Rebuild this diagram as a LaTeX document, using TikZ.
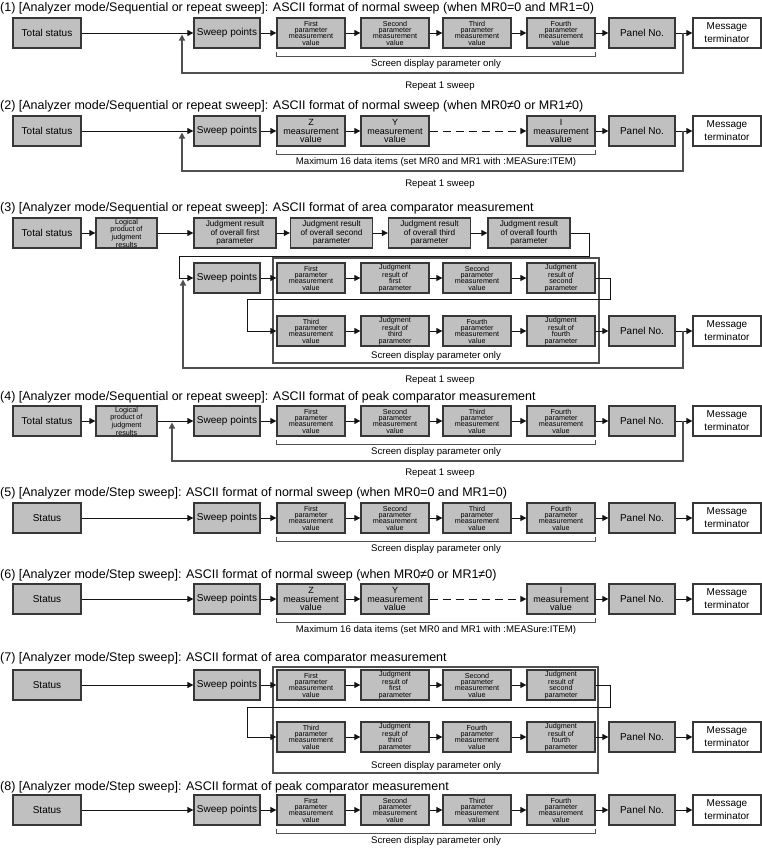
\documentclass[tikz,border=0pt]{standalone}
\usepackage{fontspec}
\setmainfont{Liberation Sans}
\usetikzlibrary{arrows.meta,calc}
\definecolor{gfill}{RGB}{192,192,192}
\definecolor{bline}{RGB}{55,55,55}
\definecolor{cline}{RGB}{20,20,20}
\definecolor{lline}{RGB}{80,80,80}
\newcommand\fTitle{\fontsize{12.5}{14}\selectfont}
\newcommand\fMid{\fontsize{10}{13}\selectfont}
\newcommand\fSm{\fontsize{7.2}{6.3}\selectfont}
\newcommand\fZ{\fontsize{9}{8.5}\selectfont}
\newcommand\fJ{\fontsize{8.2}{8.3}\selectfont}
\newcommand\fLbl{\fontsize{9.6}{11}\selectfont}
\tikzset{
  bx/.style={draw=bline, fill=gfill, line width=1.3pt, minimum height=30pt, inner sep=0pt, align=center},
  wd/.style={minimum width=68pt},
  spw/.style={minimum width=66pt},
  sm/.style={bx, wd, font=\fSm},
  md/.style={bx, font=\fMid},
  zb/.style={bx, wd, font=\fZ},
  jb/.style={bx, minimum width=82pt, font=\fJ},
  lpbox/.style={bx, minimum width=61pt, font=\fSm},
  mtbox/.style={md, wd, fill=white},
  ttl/.style={anchor=west, inner sep=0pt, font=\fTitle},
  lbl/.style={inner sep=0pt, font=\fLbl},
  ar/.style={draw=cline, line width=1pt, -{Triangle[length=6pt,width=6pt]}},
  dar/.style={ar, dash pattern=on 8pt off 5pt},
  rep/.style={draw=lline, line width=1.2pt, -{Triangle[length=6pt,width=6pt]}},
  brk/.style={draw=lline, line width=1pt},
  scr/.style={draw=lline, line width=1.3pt}
}
% standard row: four parameter boxes, panel, terminator
\newcommand\mkrow[2]{%
  \node[sm] (#1c1) at (311,#2) {First\\parameter\\measurement\\value};
  \node[sm] (#1c2) at (395,#2) {Second\\parameter\\measurement\\value};
  \node[sm] (#1c3) at (477,#2) {Third\\parameter\\measurement\\value};
  \node[sm] (#1c4) at (561,#2) {Fourth\\parameter\\measurement\\value};
  \node[md,spw] (#1pn) at (642,#2) {Panel No.};
  \node[mtbox] (#1mt) at (727,#2) {Message\\terminator};
  \draw[ar] (#1c1) -- (#1c2);
  \draw[ar] (#1c2) -- (#1c3);
  \draw[ar] (#1c3) -- (#1c4);
  \draw[ar] (#1c4) -- (#1pn);
  \draw[ar] (#1pn) -- (#1mt);
}
\newcommand\mkbrk[3]{%
  \draw[brk] ([yshift=-3pt]#1.south west) -- ([yshift=-8pt]#1.south west) -- ([yshift=-8pt]#2.south east) -- ([yshift=-3pt]#2.south east);
  \node[lbl] (#1x) at ($([yshift=-15pt]#1.south west)!0.5!([yshift=-15pt]#2.south east)$) {#3};
}
% area comparator rows
\newcommand\mkarea[4]{%
  \node[sm] (#1a1) at (311,#2) {First\\parameter\\measurement\\value};
  \node[sm] (#1a2) at (395,#2) {Judgment\\result of\\first\\parameter};
  \node[sm] (#1a3) at (477,#2) {Second\\parameter\\measurement\\value};
  \node[sm] (#1a4) at (561,#2) {Judgment\\result of\\second\\parameter};
  \node[sm] (#1b1) at (311,#3) {Third\\parameter\\measurement\\value};
  \node[sm] (#1b2) at (395,#3) {Judgment\\result of\\third\\parameter};
  \node[sm] (#1b3) at (477,#3) {Fourth\\parameter\\measurement\\value};
  \node[sm] (#1b4) at (561,#3) {Judgment\\result of\\fourth\\parameter};
  \node[md,spw] (#1pn) at (642,#3) {Panel No.};
  \node[mtbox] (#1mt) at (727,#3) {Message\\terminator};
  \draw[ar] (#1a1) -- (#1a2);
  \draw[ar] (#1a2) -- (#1a3);
  \draw[ar] (#1a3) -- (#1a4);
  \draw[ar] (#1a4.east) -| (610,#4) -| (247,#3) -- (#1b1.west);
  \draw[ar] (#1b1) -- (#1b2);
  \draw[ar] (#1b2) -- (#1b3);
  \draw[ar] (#1b3) -- (#1b4);
  \draw[ar] (#1b4) -- (#1pn);
  \draw[ar] (#1pn) -- (#1mt);
}
\begin{document}
\begin{tikzpicture}[x=1pt,y=-1pt]
\useasboundingbox (0,0) rectangle (762,852);
\fill[white] (0,0) rectangle (762,852);

% ---------- (1)
\node[ttl] (t1) at (0,8) {(1) [Analyzer mode/Sequential or repeat sweep]: ASCII format of normal sweep (when MR0=0 and MR1=0)};
\node[md,wd] (ts1) at (47,33) {Total status};
\node[md,spw] (sp1) at (227,33) {Sweep points};
\mkrow{r1}{33}
\draw[ar] (ts1) -- (sp1);
\draw[ar] (sp1) -- (r1c1);
\coordinate (j1) at (683,33);
\coordinate (k1) at (182,34.5);
\draw[rep] (j1) -- ++(0,40) -| (k1);
\mkbrk{r1c1}{r1c4}{Screen display parameter only}
\node[lbl] (rp1) at (440,86) {Repeat 1 sweep};

% ---------- (2)
\node[ttl] (t2) at (0,106) {(2) [Analyzer mode/Sequential or repeat sweep]: ASCII format of normal sweep (when MR0≠0 or MR1≠0)};
\node[md,wd] (ts2) at (47,131) {Total status};
\node[md,spw] (sp2) at (227,131) {Sweep points};
\node[zb] (z2) at (311,131) {Z\\measurement\\value};
\node[zb] (y2) at (395,131) {Y\\measurement\\value};
\node[zb] (i2) at (561,131) {I\\measurement\\value};
\node[md,spw] (pn2) at (642,131) {Panel No.};
\node[mtbox] (mt2) at (727,131) {Message\\terminator};
\draw[ar] (ts2) -- (sp2);
\draw[ar] (sp2) -- (z2);
\draw[ar] (z2) -- (y2);
\draw[dar] (y2) -- (i2);
\draw[ar] (i2) -- (pn2);
\draw[ar] (pn2) -- (mt2);
\coordinate (j2) at (683,131);
\coordinate (k2) at (182,132.5);
\draw[rep] (j2) -- ++(0,40) -| (k2);
\mkbrk{z2}{i2}{Maximum 16 data items (set MR0 and MR1 with :MEASure:ITEM)}
\node[lbl] (rp2) at (440,184) {Repeat 1 sweep};

% ---------- (3)
\node[ttl] (t3) at (0,208) {(3) [Analyzer mode/Sequential or repeat sweep]: ASCII format of area comparator measurement};
\node[md,wd] (ts3) at (47,233) {Total status};
\node[lpbox] (lp3) at (126.5,233) {Logical\\product of\\judgment\\results};
\node[jb] (ja3) at (235,233) {Judgment result\\of overall first\\parameter};
\node[jb] (jb3) at (331.5,233) {Judgment result\\of overall second\\parameter};
\node[jb] (jc3) at (429.5,233) {Judgment result\\of overall third\\parameter};
\node[jb] (jd3) at (529,233) {Judgment result\\of overall fourth\\parameter};
\draw[ar] (ts3) -- (lp3);
\draw[ar] (lp3) -- (ja3);
\draw[ar] (ja3) -- (jb3);
\draw[ar] (jb3) -- (jc3);
\draw[ar] (jc3) -- (jd3);
\node[md,spw] (sp3) at (227,278) {Sweep points};
\draw[ar] (jd3.east) -| (589,256) -| (179,278) -- (sp3.west);
\draw[scr] (273,258) rectangle (599,363);
\mkarea{r3}{278}{331}{299}
\draw[ar] (sp3) -- (r3a1);
\node[lbl] (sd3) at (436,356) {Screen display parameter only};
\coordinate (j3) at (683,331);
\coordinate (k3) at (183,279.5);
\draw[rep] (j3) -- ++(0,37) -| (k3);
\node[lbl] (rp3) at (440,380) {Repeat 1 sweep};

% ---------- (4)
\node[ttl] (t4) at (0,397) {(4) [Analyzer mode/Sequential or repeat sweep]: ASCII format of peak comparator measurement};
\node[md,wd] (ts4) at (47,421) {Total status};
\node[lpbox] (lp4) at (126.5,421) {Logical\\product of\\judgment\\results};
\node[md,spw] (sp4) at (227,421) {Sweep points};
\mkrow{r4}{421}
\draw[ar] (ts4) -- (lp4);
\draw[ar] (lp4) -- (sp4);
\draw[ar] (sp4) -- (r4c1);
\coordinate (j4) at (683,421);
\coordinate (k4) at (172,422.5);
\draw[rep] (j4) -- ++(0,40) -| (k4);
\mkbrk{r4c1}{r4c4}{Screen display parameter only}
\node[lbl] (rp4) at (440,473) {Repeat 1 sweep};

% ---------- (5)
\node[ttl] (t5) at (0,493) {(5) [Analyzer mode/Step sweep]: ASCII format of normal sweep (when MR0=0 and MR1=0)};
\node[md,wd] (st5) at (47,518) {Status};
\node[md,spw] (sp5) at (227,518) {Sweep points};
\mkrow{r5}{518}
\draw[ar] (st5) -- (sp5);
\draw[ar] (sp5) -- (r5c1);
\mkbrk{r5c1}{r5c4}{Screen display parameter only}

% ---------- (6)
\node[ttl] (t6) at (0,575) {(6) [Analyzer mode/Step sweep]: ASCII format of normal sweep (when MR0≠0 or MR1≠0)};
\node[md,wd] (st6) at (47,599) {Status};
\node[md,spw] (sp6) at (227,599) {Sweep points};
\node[zb] (z6) at (311,599) {Z\\measurement\\value};
\node[zb] (y6) at (395,599) {Y\\measurement\\value};
\node[zb] (i6) at (561,599) {I\\measurement\\value};
\node[md,spw] (pn6) at (642,599) {Panel No.};
\node[mtbox] (mt6) at (727,599) {Message\\terminator};
\draw[ar] (st6) -- (sp6);
\draw[ar] (sp6) -- (z6);
\draw[ar] (z6) -- (y6);
\draw[dar] (y6) -- (i6);
\draw[ar] (i6) -- (pn6);
\draw[ar] (pn6) -- (mt6);
\mkbrk{z6}{i6}{Maximum 16 data items (set MR0 and MR1 with :MEASure:ITEM)}

% ---------- (7)
\node[ttl] (t7) at (0,658) {(7) [Analyzer mode/Step sweep]: ASCII format of area comparator measurement};
\node[md,wd] (st7) at (47,685) {Status};
\node[md,spw] (sp7) at (227,685) {Sweep points};
\draw[scr] (273,667) rectangle (598,773);
\mkarea{r7}{685}{737}{707}
\draw[ar] (st7) -- (sp7);
\draw[ar] (sp7) -- (r7a1);
\node[lbl] (sd7) at (436,766) {Screen display parameter only};

% ---------- (8)
\node[ttl] (t8) at (0,787) {(8) [Analyzer mode/Step sweep]: ASCII format of peak comparator measurement};
\node[md,wd] (st8) at (47,810) {Status};
\node[md,spw] (sp8) at (227,810) {Sweep points};
\mkrow{r8}{810}
\draw[ar] (st8) -- (sp8);
\draw[ar] (sp8) -- (r8c1);
\mkbrk{r8c1}{r8c4}{Screen display parameter only}
\end{tikzpicture}
\end{document}
